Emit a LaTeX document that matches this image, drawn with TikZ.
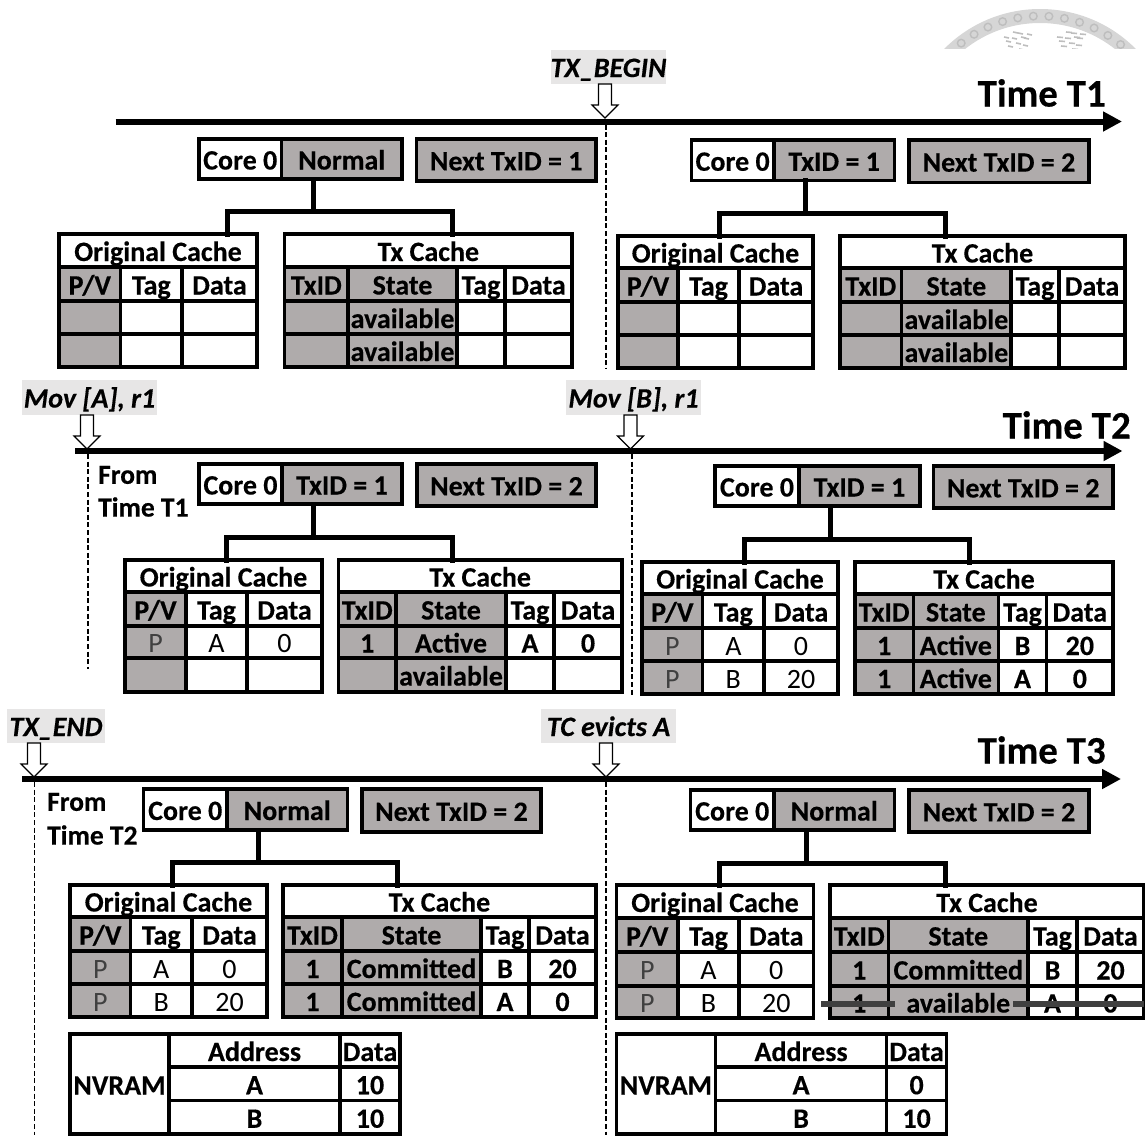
\documentclass[tikz,border=0pt]{standalone}
\usepackage{fontspec}
\setmainfont[BoldFeatures={FakeBold=0.35},BoldItalicFeatures={FakeBold=0.35}]{Carlito}
\usetikzlibrary{arrows.meta}
\definecolor{cellgray}{HTML}{AFABAB}
\definecolor{labelgray}{HTML}{E7E6E6}
\definecolor{strikegray}{HTML}{404040}
\definecolor{sealgray}{HTML}{D6D6D6}
\definecolor{sealdark}{HTML}{BEBEBE}
\tikzset{
  cellnode/.style={draw=black,line width=3.5pt,inner sep=0pt,outer sep=0pt,
    font=\fontsize{28}{30}\selectfont\bfseries,text height=21pt,text depth=0pt,align=center},
  gr/.style={fill=cellgray},
  wh/.style={fill=white},
  thintext/.style={font=\fontsize{28}{30}\selectfont\mdseries,text=black},
  ptext/.style={font=\fontsize{28}{30}\selectfont\mdseries,text=strikegray},
  conn/.style={line width=5pt,line cap=rect,line join=miter},
  timeline/.style={line width=6pt,-{Triangle[length=19pt,width=19pt]}},
  timelabel/.style={font=\fontsize{39}{42}\selectfont\bfseries,inner sep=0pt,anchor=east},
  evlabel/.style={fill=labelgray,inner sep=0pt,font=\fontsize{28}{30}\selectfont\bfseries\itshape,text height=20pt,text depth=0pt},
  hollow/.style={draw=black,fill=white,line width=1.1pt},
  dashline/.style={draw=black,line width=1.5pt,dash pattern=on 5pt off 2.6pt},
  fromtext/.style={font=\fontsize{27.5}{30}\selectfont\bfseries,inner sep=0pt,anchor=west},
  strike/.style={draw=strikegray,line width=5.5pt},
}
\newcommand{\cellbox}[7]{%
  \pgfmathsetmacro\cw{#4-#2}\pgfmathsetmacro\ch{#5-#3}%
  \node[cellnode,#6,minimum width=\cw pt,minimum height=\ch pt] (#1) at ({(#2+#4)/2},{(#3+#5)/2}) {#7};}
\newcommand{\setys}[5]{\def\ya{#1}\def\yb{#2}\def\yc{#3}\def\yd{#4}\def\ye{#5}}
\newcommand{\origtab}[5]{\def\xa{#2}\def\xb{#3}\def\xc{#4}\def\xd{#5}%
  \cellbox{#1orig}{#2}{\ya}{#5}{\yb}{wh}{Original Cache}%
  \cellbox{#1ophv}{#2}{\yb}{#3}{\yc}{gr}{P/V}%
  \cellbox{#1otag}{#3}{\yb}{#4}{\yc}{wh}{Tag}%
  \cellbox{#1odat}{#4}{\yb}{#5}{\yc}{wh}{Data}}
\newcommand{\origrow}[6]{%
  \cellbox{#1a}{\xa}{#2}{\xb}{#3}{gr,ptext}{#4}%
  \cellbox{#1b}{\xb}{#2}{\xc}{#3}{wh,thintext}{#5}%
  \cellbox{#1c}{\xc}{#2}{\xd}{#3}{wh,thintext}{#6}}
\newcommand{\txtab}[6]{\def\ta{#2}\def\tb{#3}\def\tc{#4}\def\td{#5}\def\te{#6}%
  \cellbox{#1tx}{#2}{\ya}{#6}{\yb}{wh}{Tx Cache}%
  \cellbox{#1tid}{#2}{\yb}{#3}{\yc}{gr}{TxID}%
  \cellbox{#1tst}{#3}{\yb}{#4}{\yc}{gr}{State}%
  \cellbox{#1ttg}{#4}{\yb}{#5}{\yc}{wh}{Tag}%
  \cellbox{#1tdt}{#5}{\yb}{#6}{\yc}{wh}{Data}}
\newcommand{\txrow}[7]{%
  \cellbox{#1a}{\tb}{#2}{\tc}{#3}{gr}{#5}%
  \cellbox{#1i}{\ta}{#2}{\tb}{#3}{gr}{#4}%
  \cellbox{#1b}{\tc}{#2}{\td}{#3}{wh}{#6}%
  \cellbox{#1c}{\td}{#2}{\te}{#3}{wh}{#7}}
\newcommand{\coreunit}[9]{% name x0 xdiv x1 y0 y1 state
  \cellbox{#1core}{#2}{#5}{#3}{#6}{wh}{Core 0}%
  \cellbox{#1state}{#3}{#5}{#4}{#6}{gr}{#7}%
  \cellbox{#1next}{#8}{#5+1.2}{#9}{#6+0.6}{gr}{}}
\newcommand{\nexttext}[2]{\node[font=\fontsize{28}{30}\selectfont\bfseries,inner sep=0pt,text height=21pt,text depth=0pt] (#1nt) at (#1next.center) {#2};}
\newcommand{\treeconn}[5]{% name stemx jy xl xr
  \coordinate (#1j) at (#2,#3);
  \coordinate (#1jl) at (#4,#3);
  \coordinate (#1jr) at (#5,#3);
  \draw[conn] (#1j |- #1state.south) -- (#1j);
  \draw[conn] (#1jl |- #1orig.north) -- (#1jl) -- (#1jr) -- (#1jr |- #1tx.north);}
\newcommand{\hollowarrow}[3]{% name x ytop
  \coordinate (#1tip) at (#2,{#3+34});
  \draw[hollow] ({#2-6.5},#3) -- ({#2+6.5},#3) -- ({#2+6.5},{#3+21}) -- ({#2+13},{#3+21}) -- (#1tip) -- ({#2-13},{#3+21}) -- ({#2-6.5},{#3+21}) -- cycle;}
\newcommand{\nvram}[7]{% name x0 x1 x2 x3 d1 d2
  \cellbox{#1nv}{#2}{1034}{#3}{1134}{wh}{NVRAM}%
  \cellbox{#1ad}{#3}{1034}{#4}{1067}{wh}{Address}%
  \cellbox{#1dt}{#4}{1034}{#5}{1067}{wh}{Data}%
  \cellbox{#1aa}{#3}{1067}{#4}{1100.5}{wh}{A}%
  \cellbox{#1da}{#4}{1067}{#5}{1100.5}{wh}{#6}%
  \cellbox{#1ab}{#3}{1100.5}{#4}{1134}{wh}{B}%
  \cellbox{#1db}{#4}{1100.5}{#5}{1134}{wh}{#7}}
\begin{document}
\begin{tikzpicture}[x=1pt,y=-1pt]
\useasboundingbox (0,0) rectangle (1145,1135);
% seal
\begin{scope}
  \clip (930,0) rectangle (1145,48);
  \fill[sealgray,even odd rule] (1040,144) circle (135) (1040,144) circle (121);
  \foreach \a in {-135,-128,...,-45}{
    \draw[sealdark,line width=1.4pt] ({1040+128*cos(\a)},{144+128*sin(\a)}) circle (3.8);
  }
  \foreach \dx/\dy in {0/0,6/-5,12/0,-6/3,4/5,11/7,-4/8,15/-4,1/-6,7/11,-2/13,14/12,9/-1,-8/-1}{
    \draw[sealdark,line width=1.6pt] ({1012+\dx},{38+\dy}) -- ++(5,1);
    \draw[sealdark,line width=1.6pt] ({1065+\dx},{38+\dy}) -- ++(6,0.5);
  }
\end{scope}
% timelines
\coordinate (t1s) at (115.5,121.5); \coordinate (t1e) at (1122,121.5);
\coordinate (t2s) at (75,451); \coordinate (t2e) at (1122.5,451);
\coordinate (t3s) at (22,779); \coordinate (t3e) at (1121,779);
\draw[timeline] (t1s) -- (t1e);
\draw[timeline] (t2s) -- (t2e);
\draw[timeline] (t3s) -- (t3e);
\node[timelabel] (lt1) at (1106,93) {Time T1};
\node[timelabel] (lt2) at (1131,425) {Time T2};
\node[timelabel] (lt3) at (1106,750) {Time T3};
% event labels
\node[evlabel,minimum width=115pt,minimum height=34pt] (ev1) at (608.5,67) {TX\_BEGIN};
\node[evlabel,minimum width=135pt,minimum height=35pt] (ev2) at (89.5,397.5) {Mov [A], r1};
\node[evlabel,minimum width=135pt,minimum height=35pt] (ev3) at (633.5,397.5) {Mov [B], r1};
\node[evlabel,minimum width=98pt,minimum height=34pt] (ev4) at (56,726) {TX\_END};
\node[evlabel,minimum width=135pt,minimum height=34pt] (ev5) at (608.5,726) {TC evicts A};
\hollowarrow{a1}{605}{84}
\hollowarrow{a2}{87}{415}
\hollowarrow{a3}{630.5}{415}
\hollowarrow{a4}{34}{743}
\hollowarrow{a5}{606}{743}
% dashed lines
\coordinate (d1e) at (606,369); \coordinate (d2e) at (88,669); \coordinate (d3e) at (632,695);
\coordinate (d4e) at (34.5,1135); \coordinate (d5e) at (606,1135);
\draw[dashline] (a1tip |- t1s) ++(1,3) -- (d1e);
\draw[dashline] (a2tip |- t2s) ++(1,3) -- (d2e);
\draw[dashline] (a3tip |- t2s) ++(1.5,3) -- (d3e);
\draw[dashline] (a4tip |- t3s) ++(0.5,3) -- (d4e);
\draw[dashline] (a5tip |- t3s) ++(0,3) -- (d5e);
\node[fromtext] (f1a) at (98,475) {From};
\node[fromtext] (f1b) at (98,507) {Time T1};
\node[fromtext] (f2a) at (47,802) {From};
\node[fromtext] (f2b) at (47,835) {Time T2};
% panel 1
\setys{234}{267}{301}{334}{367}
\origtab{a}{59}{120.6}{182}{257}
\origrow{a1}{\yc}{\yd}{}{}{}
\origrow{a2}{\yd}{\ye}{}{}{}
\txtab{a}{284.7}{348}{457}{505}{572}
\txrow{a3}{\yc}{\yd}{}{available}{}{}
\txrow{a4}{\yd}{\ye}{}{available}{}{}
\coreunit{a}{199}{281.5}{402}{139}{179}{Normal}{416.5}{596}
\nexttext{a}{Next TxID = 1}
\treeconn{a}{313.6}{211}{227}{452}
% panel 2
\setys{236}{268}{302}{335}{368}
\origtab{b}{618}{678}{739}{813}
\origrow{b1}{\yc}{\yd}{}{}{}
\origrow{b2}{\yd}{\ye}{}{}{}
\txtab{b}{840}{901.7}{1011}{1059}{1125}
\txrow{b3}{\yc}{\yd}{}{available}{}{}
\txrow{b4}{\yd}{\ye}{}{available}{}{}
\coreunit{b}{691.5}{773.8}{894.5}{140}{180.5}{TxID = 1}{909}{1089}
\nexttext{b}{Next TxID = 2}
\treeconn{b}{805.8}{213.5}{719}{945}
% panel 3
\setys{560}{592}{626}{658}{692}
\origtab{c}{125}{186}{247}{322}
\origrow{c1}{\yc}{\yd}{P}{A}{0}
\origrow{c2}{\yd}{\ye}{}{}{}
\txtab{c}{338.5}{396}{506}{554}{622}
\txrow{c3}{\yc}{\yd}{1}{Active}{A}{0}
\txrow{c4}{\yd}{\ye}{}{available}{}{}
\coreunit{c}{199}{282}{402}{464}{504}{TxID = 1}{417}{596}
\nexttext{c}{Next TxID = 2}
\treeconn{c}{313.5}{537}{226.5}{452}
% panel 4
\setys{562}{594}{628}{661}{694}
\origtab{d}{642}{702.7}{764}{838}
\origrow{d1}{\yc}{\yd}{P}{A}{0}
\origrow{d2}{\yd}{\ye}{P}{B}{20}
\txtab{d}{855}{913.3}{998.3}{1046.7}{1113}
\txrow{d3}{\yc}{\yd}{1}{Active}{B}{20}
\txrow{d4}{\yd}{\ye}{1}{Active}{A}{0}
\coreunit{d}{715}{799}{920}{466}{506}{TxID = 1}{933.5}{1113}
\nexttext{d}{Next TxID = 2}
\treeconn{d}{830.7}{539}{744}{969.3}
% panel 5
\setys{885}{917}{951}{984}{1017}
\origtab{e}{70}{130.5}{192}{267}
\origrow{e1}{\yc}{\yd}{P}{A}{0}
\origrow{e2}{\yd}{\ye}{P}{B}{20}
\txtab{e}{283}{342}{481}{529}{596}
\txrow{e3}{\yc}{\yd}{1}{Committed}{B}{20}
\txrow{e4}{\yd}{\ye}{1}{Committed}{A}{0}
\coreunit{e}{143.5}{227}{347.5}{789}{830}{Normal}{362}{541}
\nexttext{e}{Next TxID = 2}
\treeconn{e}{258}{862}{172}{397}
\nvram{e}{70}{169}{340}{400}{10}{10}
% panel 6
\setys{885}{918}{952}{986}{1018}
\origtab{f}{616.5}{678}{739}{813.5}
\origrow{f1}{\yc}{\yd}{P}{A}{0}
\origrow{f2}{\yd}{\ye}{P}{B}{20}
\txtab{f}{830}{888.5}{1028}{1077}{1144}
\txrow{f3}{\yc}{\yd}{1}{Committed}{B}{20}
\txrow{f4}{\yd}{\ye}{1}{available}{A}{0}
\coreunit{f}{690.5}{774}{894.5}{790}{830}{Normal}{909}{1089}
\nexttext{f}{Next TxID = 2}
\treeconn{f}{806}{863}{719}{945}
\nvram{f}{616.5}{715.4}{886.7}{946.5}{0}{10}
% strike-through
\coordinate (s1a) at (821,1004); \coordinate (s1b) at (895,1004);
\coordinate (s2a) at (1013,1004); \coordinate (s2b) at (1144,1004);
\draw[strike] (s1a) -- (s1b);
\draw[strike] (s2a) -- (s2b);
\end{tikzpicture}
\end{document}
